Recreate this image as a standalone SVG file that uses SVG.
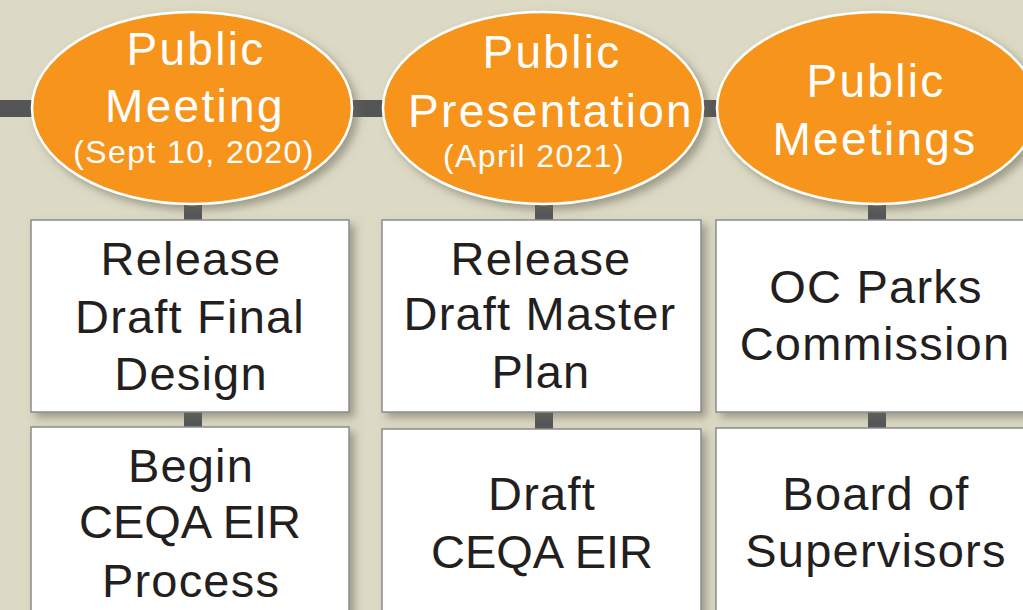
<svg xmlns="http://www.w3.org/2000/svg" width="1023" height="610" viewBox="0 0 1023 610">
<defs>
<filter id="sh" x="-20%" y="-20%" width="150%" height="150%">
<feDropShadow dx="5" dy="5" stdDeviation="4" flood-color="#6b6a55" flood-opacity="0.55"/>
</filter>
<style>
.bar{fill:#555558}
.ell{fill:#f7941d;stroke:#ffffff;stroke-width:2.5;filter:url(#sh)}
.box{fill:#ffffff;stroke:#8c8c8c;stroke-width:1.5;filter:url(#sh)}
.et{font-family:"Liberation Sans",Arial,sans-serif;fill:#ffffff;text-anchor:middle;font-size:46px;letter-spacing:2.3px}
.es{font-family:"Liberation Sans",Arial,sans-serif;fill:#ffffff;text-anchor:middle;font-size:32px;letter-spacing:1.4px}
.bt{font-family:"Liberation Sans",Arial,sans-serif;fill:#231f20;text-anchor:middle;font-size:47px;letter-spacing:1.2px}
.nar{letter-spacing:0px}
</style>
</defs>
<rect width="1023" height="610" fill="#dcd9c5"/>
<g id="connectors">
<rect class="bar" x="0" y="100" width="1023" height="17"/>
<rect class="bar" x="184" y="200" width="18" height="24"/>
<rect class="bar" x="184" y="408" width="18" height="24"/>
<rect class="bar" x="535" y="200" width="18" height="24"/>
<rect class="bar" x="535" y="408" width="18" height="24"/>
<rect class="bar" x="868" y="200" width="18" height="24"/>
<rect class="bar" x="868" y="408" width="18" height="24"/>
</g>
<g id="m1">
<ellipse class="ell" cx="192" cy="108" rx="160" ry="96"/>
<text class="et" x="196" y="65">Public</text>
<text class="et" x="195" y="122">Meeting</text>
<text class="es" x="194" y="163">(Sept 10, 2020)</text>
</g>
<g id="m2">
<ellipse class="ell" cx="543" cy="108" rx="160" ry="96"/>
<text class="et" x="552" y="68">Public</text>
<text class="et" x="551" y="127" letter-spacing="2">Presentation</text>
<text class="es" x="534" y="167" font-size="33">(April 2021)</text>
</g>
<g id="m3">
<ellipse class="ell" cx="877" cy="108" rx="160" ry="96"/>
<text class="et" x="876" y="97">Public</text>
<text class="et" x="875" y="155">Meetings</text>
</g>
<g id="b1">
<rect class="box" x="31" y="220" width="318" height="192"/>
<text class="bt" x="191" y="275">Release</text>
<text class="bt" x="190" y="333">Draft Final</text>
<text class="bt" x="191" y="390">Design</text>
</g>
<g id="b2">
<rect class="box" x="382" y="220" width="319" height="192"/>
<text class="bt" x="541" y="275">Release</text>
<text class="bt" x="540" y="330">Draft Master</text>
<text class="bt" x="541" y="388">Plan</text>
</g>
<g id="b3">
<rect class="box" x="716" y="220" width="318" height="192"/>
<text class="bt" x="876" y="303">OC Parks</text>
<text class="bt" x="875" y="360" letter-spacing="1.8">Commission</text>
</g>
<g id="b4">
<rect class="box" x="31" y="427" width="318" height="200"/>
<text class="bt" x="191" y="482">Begin</text>
<text class="bt nar" x="190" y="538">CEQA EIR</text>
<text class="bt" x="191" y="597">Process</text>
</g>
<g id="b5">
<rect class="box" x="382" y="429" width="319" height="200"/>
<text class="bt" x="542" y="510">Draft</text>
<text class="bt nar" x="542" y="568">CEQA EIR</text>
</g>
<g id="b6">
<rect class="box" x="716" y="428" width="318" height="200"/>
<text class="bt" x="876" y="510">Board of</text>
<text class="bt" x="876" y="567">Supervisors</text>
</g>
</svg>
